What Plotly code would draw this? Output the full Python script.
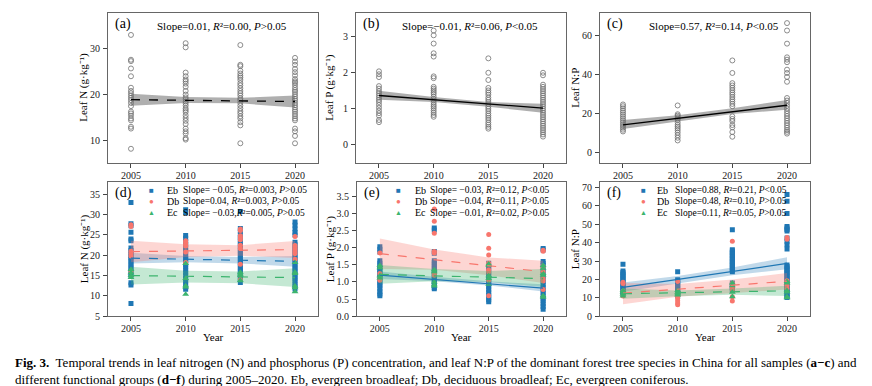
import plotly.graph_objects as go

W, H = 872, 386
YEARS = [2005, 2010, 2015, 2020]
FIT_YEARS = [2005, 2020]

# ---------------- (a) Leaf N, all samples ----------------
aN = [
    [33.0, 27.6, 27.3, 25.7, 24.0, 21.5, 20.8, 20.3, 19.8, 19.3, 18.8, 18.2, 17.5, 16.3, 15.9, 15.4, 14.8, 14.4, 13.0, 12.6, 8.2],
    [31.2, 30.3, 24.8, 24.0, 23.3, 22.9, 22.4, 21.7, 20.8, 20.0, 19.4, 19.0, 18.5, 18.1, 17.6, 17.0, 16.6, 16.2, 15.5, 14.9, 14.3, 13.6, 12.6, 12.0, 11.5, 10.5, 10.2],
    [30.8, 26.5, 26.2, 25.2, 24.6, 24.1, 23.7, 23.2, 22.5, 22.0, 21.4, 20.8, 20.3, 19.8, 19.2, 18.8, 18.2, 17.6, 17.0, 16.4, 15.9, 15.3, 14.8, 14.0, 13.3, 9.4],
    [28.0, 27.2, 26.5, 25.6, 24.9, 24.2, 23.4, 22.9, 22.6, 22.1, 21.5, 21.0, 20.6, 20.1, 19.6, 19.1, 18.7, 18.2, 17.7, 17.2, 16.7, 16.3, 15.8, 15.3, 14.8, 14.4, 12.6, 12.0, 11.0, 9.4],
]
aN_fit = [18.9, 18.5]
aN_lo = [17.6, 18.2, 18.1, 17.2]
aN_hi = [20.2, 19.5, 19.3, 19.8]

# ---------------- (b) Leaf P, all samples ----------------
bP = [
    [2.03, 1.95, 1.87, 1.62, 1.55, 1.48, 1.42, 1.36, 1.30, 1.24, 1.18, 1.10, 1.02, 0.94, 0.87, 0.80, 0.68, 0.62],
    [3.16, 3.03, 2.80, 2.53, 2.44, 1.89, 1.84, 1.60, 1.55, 1.50, 1.45, 1.40, 1.33, 1.27, 1.22, 1.16, 1.10, 1.05, 1.00, 0.94, 0.88, 0.82, 0.77],
    [2.39, 1.99, 1.79, 1.57, 1.50, 1.44, 1.38, 1.30, 1.24, 1.18, 1.12, 1.05, 0.99, 0.93, 0.86, 0.80, 0.74, 0.68, 0.61, 0.55, 0.49, 0.44],
    [1.99, 1.92, 1.66, 1.60, 1.54, 1.48, 1.42, 1.36, 1.30, 1.24, 1.18, 1.12, 1.06, 1.00, 0.94, 0.88, 0.82, 0.76, 0.70, 0.64, 0.58, 0.52, 0.46, 0.40, 0.34, 0.28, 0.22],
]
bP_fit = [1.36, 1.01]
bP_lo = [1.24, 1.18, 1.05, 0.88]
bP_hi = [1.49, 1.32, 1.18, 1.13]

# ---------------- (c) Leaf N:P, all samples ----------------
cNP = [
    [24.7, 23.8, 22.7, 21.6, 20.6, 19.6, 18.6, 17.6, 16.6, 15.6, 14.6, 13.7, 12.8, 11.8, 10.9],
    [24.2, 19.7, 19.0, 18.3, 17.6, 16.8, 15.5, 14.3, 13.4, 12.5, 11.5, 10.3, 9.0, 7.7, 6.3],
    [47.2, 40.8, 35.6, 34.4, 33.2, 32.0, 30.8, 29.7, 28.5, 27.3, 26.2, 25.0, 23.8, 18.6, 17.3, 16.2, 14.2, 13.0, 10.6, 8.2],
    [66.3, 62.5, 55.8, 48.8, 47.6, 46.3, 42.5, 40.8, 38.8, 36.3, 28.0, 26.7, 25.5, 24.0, 22.6, 21.3, 20.0, 18.8, 17.6, 16.4, 15.2, 14.0, 12.8, 11.6, 10.7, 9.8],
]
cNP_fit = [14.3, 24.3]
cNP_lo = [12.2, 16.0, 19.8, 22.0]
cNP_hi = [16.8, 19.2, 22.8, 27.0]

# ---------------- (d) Leaf N by functional group ----------------
dN_Eb = [
    [33.0, 27.8, 27.3, 25.7, 24.0, 23.6, 21.8, 21.2, 20.6, 20.0, 19.5, 19.0, 18.4, 17.8, 17.2, 16.6, 16.0, 15.4, 14.8, 13.2, 12.7, 8.1],
    [31.2, 30.5, 24.9, 24.2, 23.4, 22.6, 21.9, 21.2, 20.6, 20.0, 19.4, 18.9, 18.3, 17.7, 17.1, 16.4, 15.7, 15.0, 14.3, 13.6, 12.9, 12.2, 11.6],
    [30.8, 26.6, 26.0, 25.0, 24.4, 23.7, 23.0, 22.4, 21.8, 21.2, 20.6, 20.0, 19.4, 18.8, 18.2, 17.6, 17.0, 16.4, 15.8, 15.2, 14.6, 14.0, 13.3],
    [28.2, 27.4, 26.5, 25.6, 25.0, 23.2, 22.6, 22.0, 21.4, 20.8, 20.2, 19.6, 19.0, 18.4, 17.8, 17.2, 16.6, 16.0, 15.4, 14.8, 14.2, 13.6, 12.9, 12.3, 11.7],
]
dN_Db = [
    [27.5, 27.1, 21.0, 20.4, 19.8, 16.0],
    [23.6, 23.2, 22.7, 22.3, 20.8, 18.2],
    [26.5, 26.1, 24.8, 24.3, 23.8, 22.5, 21.7, 17.8, 14.0],
    [24.6, 22.4, 21.9, 21.4, 20.9, 20.4, 19.0],
]
dN_Ec = [
    [16.5, 15.7, 15.0, 14.5],
    [18.0, 14.3, 12.5, 12.2, 10.4],
    [15.8, 15.4, 15.0, 13.8],
    [18.2, 15.8, 15.5, 12.4, 12.0, 11.0],
]
dN_fit = {"Eb": [19.3, 18.5], "Db": [20.9, 21.4], "Ec": [15.0, 14.5]}
dN_lo = {"Eb": [18.0, 18.3, 18.0, 17.2], "Db": [18.3, 19.6, 19.9, 19.3], "Ec": [12.8, 13.3, 13.1, 12.2]}
dN_hi = {"Eb": [20.6, 19.8, 19.6, 19.8], "Db": [23.6, 22.7, 22.5, 23.5], "Ec": [17.2, 16.2, 16.0, 16.8]}
dN_stats = ["Slope= \u22120.05, <i>R</i>\u00b2=0.003, <i>P</i>&gt;0.05",
            "Slope=0.04, <i>R</i>\u00b2=0.003, <i>P</i>&gt;0.05",
            "Slope= \u22120.03,<i>R</i>\u00b2=0.005, <i>P</i>&gt;0.05"]

# ---------------- (e) Leaf P by functional group ----------------
eP_Eb = [
    [2.03, 1.96, 1.88, 1.62, 1.55, 1.48, 1.42, 1.36, 1.30, 1.24, 1.18, 1.12, 1.06, 1.00, 0.94, 0.88, 0.80, 0.72, 0.65, 0.60],
    [2.58, 2.52, 1.89, 1.84, 1.62, 1.56, 1.50, 1.44, 1.38, 1.32, 1.26, 1.20, 1.14, 1.08, 1.02, 0.96, 0.90, 0.84, 0.80],
    [1.55, 1.45, 1.38, 1.30, 1.22, 1.15, 1.08, 1.00, 0.93, 0.86, 0.78, 0.70, 0.62, 0.55, 0.48, 0.42],
    [1.98, 1.94, 1.60, 1.54, 1.48, 1.40, 1.32, 1.24, 1.16, 1.08, 1.00, 0.92, 0.84, 0.76, 0.68, 0.60, 0.52, 0.44, 0.36, 0.28, 0.20],
]
eP_Db = [
    [1.85, 1.25, 1.10, 1.05],
    [3.14, 2.78, 2.43, 1.89, 1.85, 1.25, 1.20],
    [2.39, 1.99, 1.79, 1.55, 1.35, 1.30, 1.05, 0.60],
    [1.93, 1.90, 1.45, 1.30, 1.10, 1.03, 0.78],
]
eP_Ec = [
    [1.48, 1.42, 1.18, 1.12],
    [1.36, 1.30, 1.00, 0.92, 0.88],
    [1.53, 1.48, 1.18, 1.10, 0.93],
    [1.48, 1.40, 1.25, 1.20, 0.60, 0.55],
]
eP_fit = {"Eb": [1.20, 0.82], "Db": [1.83, 1.30], "Ec": [1.22, 1.10]}
eP_lo = {"Eb": [1.09, 1.02, 0.90, 0.72], "Db": [1.38, 1.36, 1.20, 0.97], "Ec": [0.95, 1.02, 1.00, 0.85]}
eP_hi = {"Eb": [1.31, 1.15, 1.02, 0.93], "Db": [2.27, 1.95, 1.72, 1.62], "Ec": [1.50, 1.38, 1.32, 1.38]}
eP_stats = ["Slope= \u22120.03, <i>R</i>\u00b2=0.12, <i>P</i>&lt;0.05",
            "Slope= \u22120.04, <i>R</i>\u00b2=0.11, <i>P</i>&gt;0.05",
            "Slope= \u22120.01, <i>R</i>\u00b2=0.02, <i>P</i>&gt;0.05"]

# ---------------- (f) Leaf N:P by functional group ----------------
fNP_Eb = [
    [28.2, 24.6, 23.8, 23.0, 22.2, 21.4, 20.6, 19.8, 19.0, 18.2, 17.4, 16.6, 15.8, 15.0, 14.2, 13.4, 12.6, 11.9],
    [24.2, 19.8, 19.0, 18.2, 17.4, 16.6, 15.8, 15.0, 14.2, 13.4, 12.6, 11.8, 11.0],
    [47.0, 36.2, 35.4, 34.6, 33.8, 33.0, 32.2, 31.4, 30.6, 29.8, 29.0, 28.2, 27.4, 26.6, 25.8, 25.0, 24.2, 18.0, 17.2, 16.4, 15.6, 14.8, 14.0],
    [66.2, 62.6, 55.9, 48.8, 48.0, 47.2, 46.4, 42.5, 40.8, 38.9, 36.5, 27.8, 27.0, 26.2, 25.4, 24.6, 23.8, 23.0, 22.2, 21.4, 20.6, 19.8, 19.0, 18.2, 17.4, 16.6, 15.8, 15.0, 14.2, 13.4, 12.6, 11.8, 11.0, 10.2],
]
fNP_Db = [
    [18.5, 17.8, 13.5, 11.0],
    [18.8, 12.0, 10.8, 9.6, 8.4, 7.2, 6.2],
    [40.8, 17.8, 16.0, 14.5, 10.5, 8.2],
    [42.8, 41.8, 19.2, 18.0, 16.5, 15.0],
]
fNP_Ec = [
    [14.0, 13.2, 12.0, 11.0],
    [14.0, 13.0, 12.2, 11.5],
    [18.0, 16.5, 13.0, 10.5],
    [18.8, 18.0, 14.0, 13.2, 10.5, 10.0],
]
fNP_fit = {"Eb": [15.7, 28.7], "Db": [12.5, 19.0], "Ec": [12.2, 13.8]}
fNP_lo = {"Eb": [13.3, 17.8, 22.2, 25.5], "Db": [6.5, 10.5, 12.5, 14.5], "Ec": [9.5, 10.8, 11.6, 11.0]}
fNP_hi = {"Eb": [18.3, 21.8, 26.5, 32.0], "Db": [18.0, 17.5, 20.0, 23.5], "Ec": [15.0, 14.0, 15.0, 16.5]}
fNP_stats = ["Slope=0.88, <i>R</i>\u00b2=0.21, <i>P</i>&lt;0.05",
             "Slope=0.48, <i>R</i>\u00b2=0.10, <i>P</i>&gt;0.05",
             "Slope=0.11, <i>R</i>\u00b2=0.05, <i>P</i>&gt;0.05"]

GROUPS = ["Eb", "Db", "Ec"]
COLORS = {"Eb": "#1f77b4", "Db": "#f8766d", "Ec": "#3cb46e"}
BANDS = {"Eb": "rgba(31,119,180,0.28)", "Db": "rgba(248,118,109,0.30)", "Ec": "rgba(60,180,110,0.30)"}
SYMBOLS = {"Eb": "square", "Db": "circle", "Ec": "triangle-up"}
GLYPHS = {"Eb": "\u25a0", "Db": "\u25cf", "Ec": "\u25b2"}
SIG = {("e", "Eb"), ("f", "Eb")}

FONT = "Liberation Serif"

fig = go.Figure()

PANELS = {
    "a": (100, 310, 5, 157), "b": (348, 558, 5, 157), "c": (592, 802, 5, 157),
    "d": (100, 310, 177, 313), "e": (349, 558, 177, 313), "f": (592, 802, 177, 313),
}
AXIDX = {"a": 1, "b": 2, "c": 3, "d": 4, "e": 5, "f": 6}
YRANGE = {"a": [5.2, 37.8], "b": [-0.5, 3.65], "c": [-5, 71.5],
          "d": [5, 38], "e": [0, 3.92], "f": [0, 72.9]}
YTICKS = {"a": [10, 20, 30], "b": [0, 1, 2, 3], "c": [0, 20, 40, 60],
          "d": [5, 10, 15, 20, 25, 30, 35], "e": [0, 0.5, 1.0, 1.5, 2.0, 2.5, 3.0, 3.5],
          "f": [0, 10, 20, 30, 40, 50, 60, 70]}


def refs(p):
    i = AXIDX[p]
    return ("x" if i == 1 else f"x{i}"), ("y" if i == 1 else f"y{i}")


def flat(lists):
    xs, ys = [], []
    for yr, vals in zip(YEARS, lists):
        xs += [yr] * len(vals)
        ys += vals
    return xs, ys


def band(p, lo, hi, color):
    xr, yr = refs(p)
    fig.add_trace(go.Scatter(x=YEARS + YEARS[::-1], y=hi + lo[::-1], fill="toself",
                             fillcolor=color, line=dict(width=0), mode="lines",
                             hoverinfo="skip", showlegend=False, xaxis=xr, yaxis=yr))


def fitline(p, fit, color, dash, width=1.3):
    xr, yr = refs(p)
    fig.add_trace(go.Scatter(x=FIT_YEARS, y=fit, mode="lines",
                             line=dict(color=color, width=width, dash=dash),
                             showlegend=False, xaxis=xr, yaxis=yr))


for p, data, fit, lo, hi, dash in [("a", aN, aN_fit, aN_lo, aN_hi, "dash"),
                                   ("b", bP, bP_fit, bP_lo, bP_hi, "solid"),
                                   ("c", cNP, cNP_fit, cNP_lo, cNP_hi, "solid")]:
    xr, yr = refs(p)
    xs, ys = flat(data)
    fig.add_trace(go.Scatter(x=xs, y=ys, mode="markers",
                             marker=dict(symbol="circle-open", size=5, color="#707070",
                                         line=dict(width=0.8, color="#707070")),
                             showlegend=False, xaxis=xr, yaxis=yr))
    band(p, lo, hi, "rgba(110,110,110,0.55)")
    fitline(p, fit, "black", dash, 1.3)

bottom = {
    "d": ({"Eb": dN_Eb, "Db": dN_Db, "Ec": dN_Ec}, dN_fit, dN_lo, dN_hi),
    "e": ({"Eb": eP_Eb, "Db": eP_Db, "Ec": eP_Ec}, eP_fit, eP_lo, eP_hi),
    "f": ({"Eb": fNP_Eb, "Db": fNP_Db, "Ec": fNP_Ec}, fNP_fit, fNP_lo, fNP_hi),
}
for p, (groups, fits, los, his) in bottom.items():
    xr, yr = refs(p)
    for g in GROUPS:
        xs, ys = flat(groups[g])
        fig.add_trace(go.Scatter(x=xs, y=ys, mode="markers",
                                 marker=dict(symbol=SYMBOLS[g], size=5 if g != "Ec" else 6,
                                             color=COLORS[g], line=dict(width=0)),
                                 showlegend=False, xaxis=xr, yaxis=yr))
        band(p, los[g], his[g], BANDS[g])
    for g in GROUPS:
        fitline(p, fits[g], COLORS[g], "solid" if (p, g) in SIG else "dash", 1.2)

layout = dict(width=W, height=H, margin=dict(l=0, r=0, t=0, b=0),
              paper_bgcolor="white", plot_bgcolor="white", showlegend=False,
              font=dict(family=FONT, size=10, color="#222"))
for p, (x0, x1, y0, y1) in PANELS.items():
    i = AXIDX[p]
    xk = "xaxis" if i == 1 else f"xaxis{i}"
    yk = "yaxis" if i == 1 else f"yaxis{i}"
    xa = "x" if i == 1 else f"x{i}"
    ya = "y" if i == 1 else f"y{i}"
    common = dict(showline=True, mirror=True, linecolor="#666", linewidth=1,
                  ticks="outside", ticklen=4, tickcolor="#444", tickwidth=1,
                  showgrid=False, zeroline=False,
                  tickfont=dict(family=FONT, size=10, color="#222"))
    layout[xk] = dict(common, domain=[x0 / W, x1 / W], range=[2002.9, 2022.1],
                      tickvals=YEARS, anchor=ya, ticklabelstandoff=-1)
    layout[yk] = dict(common, domain=[1 - y1 / H, 1 - y0 / H], range=YRANGE[p],
                      tickvals=YTICKS[p], anchor=xa, ticklabelstandoff=1)
    if p == "e":
        layout[yk]["tickformat"] = ".1f"
fig.update_layout(**layout)

ann = []


def A(x, y, text, size=10, xanchor="center", color="black", angle=0, yanchor="middle"):
    ann.append(dict(x=x / W, y=1 - y / H, xref="paper", yref="paper", text=text,
                    showarrow=False, xanchor=xanchor, yanchor=yanchor, textangle=angle,
                    font=dict(family=FONT, size=size, color=color)))


for p, (x0, x1, y0, y1) in PANELS.items():
    A(x0 + 5, y0 + 11, f"({p})", size=14, xanchor="left")

A(147, 18, "Slope=0.01, <i>R</i>\u00b2=0.00, <i>P</i>&gt;0.05", size=11, xanchor="left")
A(392, 18, "Slope=\u22120.01, <i>R</i>\u00b2=0.06, <i>P</i>&lt;0.05", size=11, xanchor="left")
A(639, 18, "Slope=0.57, <i>R</i>\u00b2=0.14, <i>P</i>&lt;0.05", size=11, xanchor="left")

ytitles = {"a": (76, "Leaf N (g\u00b7kg\u207b\u00b9)"), "b": (322, "Leaf P (g\u00b7kg\u207b\u00b9)"),
           "c": (567, "Leaf N:P"), "d": (76, "Leaf N (g\u00b7kg\u207b\u00b9)"),
           "e": (322, "Leaf P (g\u00b7kg\u207b\u00b9)"), "f": (567, "Leaf N:P")}
for p, (xt, t) in ytitles.items():
    x0, x1, y0, y1 = PANELS[p]
    A(xt, (y0 + y1) / 2, t, size=11, angle=-90)

for p in ["d", "e", "f"]:
    x0, x1, y0, y1 = PANELS[p]
    A((x0 + x1) / 2, 334, "Year", size=11)

LEG = {"d": (143, 157, 173, dN_stats), "e": (390, 405, 420, eP_stats), "f": (635, 647, 665, fNP_stats)}
ROWS = [185, 196.5, 208]
for p, (mx, lx, sx, stats) in LEG.items():
    for g, ry, st in zip(GROUPS, ROWS, stats):
        A(mx, ry, GLYPHS[g], size=8 if g != "Ec" else 7, color=COLORS[g])
        A(lx, ry, g, size=10, xanchor="left")
        A(sx, ry, st, size=9.5, xanchor="left")

A(5, 360, "<b>Fig. 3.</b>  Temporal trends in leaf nitrogen (N) and phosphorus (P) concentration, and leaf N:P of the dominant forest tree species in China for all samples (<b>a\u2212c</b>) and",
  size=13, xanchor="left")
A(5, 377, "different functional groups (<b>d\u2212f</b>) during 2005\u20132020. Eb, evergreen broadleaf; Db, deciduous broadleaf; Ec, evergreen coniferous.",
  size=13, xanchor="left")

fig.update_layout(annotations=ann)
fig.write_html("out.html")
